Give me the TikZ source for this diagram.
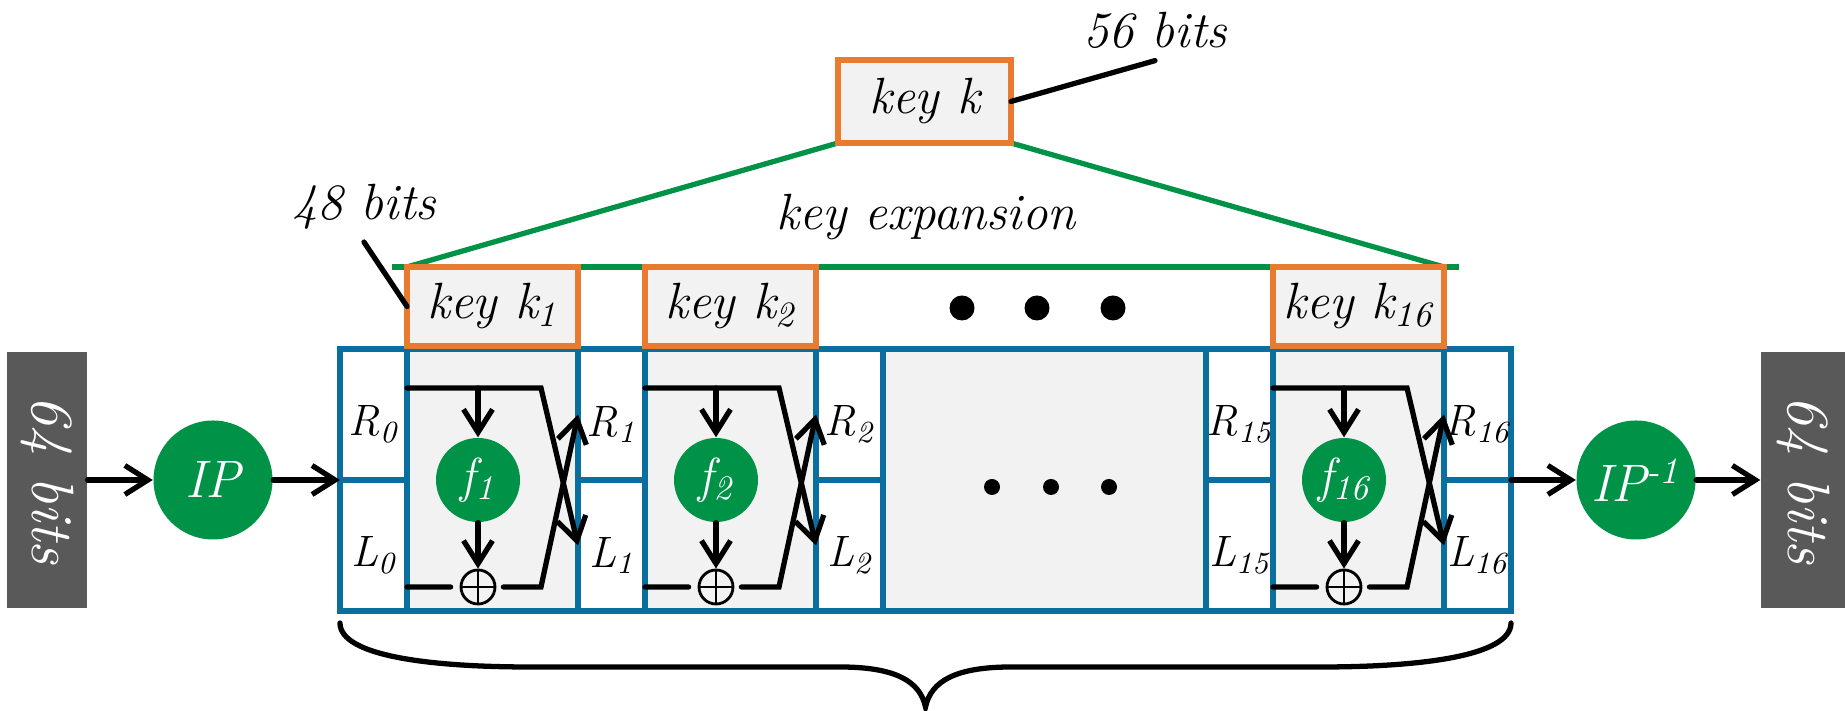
\documentclass[tikz,border=0pt]{standalone}
\usepackage{fontspec}
\usepackage{graphicx}
\usepackage{xcolor}
\usepackage{tikz}
\usetikzlibrary{arrows.meta,positioning,calc,backgrounds}
\definecolor{desblue}{HTML}{0A6E9E}
\definecolor{desorange}{HTML}{E97B30}
\definecolor{desgreen}{HTML}{009247}
\definecolor{desgray}{HTML}{595959}
\definecolor{despale}{HTML}{F2F2F2}
\newcommand{\fsz}[1]{\fontsize{#1}{#1}\selectfont\itshape}

\begin{document}
\begin{tikzpicture}[
  font=\fsz{14.5},
  >={Straight Barb[length=2.3mm,width=2.9mm]},
  wire/.style={line width=1.5pt,line cap=round},
  flow/.style={wire,->},
  cell/.style={draw=desblue,line width=1.5pt,fill=white,minimum width=0.67cm,minimum height=1.31cm,inner sep=0pt,outer sep=0pt},
  roundbox/.style={cell,fill=despale,minimum width=1.71cm,minimum height=2.62cm},
  keybox/.style={draw=desorange,fill=despale,line width=1.6pt,minimum width=1.71cm,minimum height=0.79cm,inner sep=0pt,outer sep=0pt},
  fnode/.style={circle,fill=desgreen,text=white,minimum size=0.84cm,inner sep=0pt,font=\fsz{14}},
  ipnode/.style={circle,fill=desgreen,text=white,minimum size=1.19cm,inner sep=0pt,font=\fsz{15}},
  bitsbox/.style={fill=desgray,text=white,minimum width=0.8cm,minimum height=2.56cm,inner sep=0pt,font=\fsz{17}},
  xorsym/.style={circle,draw,line width=0.8pt,minimum size=0.34cm,inner sep=0pt,
    path picture={\draw[line width=0.8pt] (path picture bounding box.north) -- (path picture bounding box.south)
      (path picture bounding box.west) -- (path picture bounding box.east);}},
  reglabel/.style={font=\fsz{12.5},yshift=-1mm},
  keyline/.style={draw=desgreen,line width=1.5pt},
  brace/.style={line width=1.5pt,line cap=round}
]
\useasboundingbox (0,0) rectangle (18.45,7.11);

% register cells and the skipped rounds
\foreach \n/\x in {0/3.735,1/6.115,2/8.495,15/12.395,16/14.775}{
  \node[cell,label={[reglabel]center:R\textsubscript{\n}}] (R\n) at (\x,2.965) {};
  \node[cell,label={[reglabel]center:L\textsubscript{\n}}] (L\n) at (\x,1.655) {};
}
\node[roundbox,minimum width=3.23cm] (gap) at (10.445,2.31) {};
\foreach \x in {9.92,10.51,11.09} \fill (\x,2.24) circle (0.08);

% feistel rounds
\foreach \n/\x in {1/4.925,2/7.305,16/13.585}{
  \node[roundbox] (rnd\n) at (\x,2.31) {};
  \node[keybox] (key\n) at (\x,4.045) {key k\textsubscript{\n}};
  \node[fnode] (f\n) at (\x-0.145,2.31) {f\textsubscript{\n}};
  \node[xorsym] (x\n) at (\x-0.145,1.24) {};
  \coordinate (t\n) at ($(rnd\n.west)+(0,0.92)$);
  \coordinate (tk\n) at ($(rnd\n.west)+(1.34,0.92)$);
  \coordinate (b\n) at ($(rnd\n.west)+(0,-1.07)$);
  \coordinate (bk\n) at ($(rnd\n.west)+(1.34,-1.07)$);
  \draw[flow] (t\n) -- (tk\n) -- (L\n.west);
  \draw[flow] (t\n -| f\n) -- (f\n);
  \draw[flow] (f\n) -- (x\n);
  \draw[wire,shorten >=0.09cm] (b\n) -- (x\n);
  \draw[flow,shorten <=0.07cm] (x\n) -- (bk\n) -- (R\n.west);
}
\foreach \x in {9.62,10.37,11.13} \fill (\x,4.03) circle (0.125);

% key schedule
\node[keybox,minimum width=1.73cm,minimum height=0.83cm] (kk) at (9.245,6.095) {key k};
\node (kexp) at (9.26,4.94) {key expansion};
\begin{scope}[on background layer]
  \draw[keyline] (key1.north west) -- (kk.south west);
  \draw[keyline] (kk.south east) -- (key16.north east);
  \draw[keyline] ($(key1.north west)+(-0.15,0)$) -- ($(key16.north east)+(0.15,0)$);
\end{scope}
\node (b56) at (11.55,6.81) {56 bits};
\draw[wire] (kk.east) -- (b56.south);
\node (b48) at (3.64,5.04) {48 bits};
\draw[wire] (b48.south) -- (key1.west);

% permutations
\node[bitsbox] (in64) at (0.47,2.31) {\rotatebox{-90}{64 bits}};
\node[ipnode] (ip) at (2.13,2.31) {IP};
\node[ipnode] (ipinv) at (16.36,2.31) {IP\textsuperscript{-1}};
\node[bitsbox,minimum width=0.84cm] (out64) at (18.03,2.31) {\rotatebox{-90}{64 bits}};
\draw[flow] (in64) -- (ip);
\draw[flow] (ip) -- (R0.south west);
\draw[flow] (R16.south east) -- (ipinv);
\draw[flow] (ipinv) -- (out64);

\draw[brace] (3.40,0.88) .. controls (3.40,0.55) and (4.3,0.44) .. (5.3,0.44) -- (8.4,0.44)
  .. controls (8.95,0.44) and (9.2,0.3) .. (9.255,0.04)
  .. controls (9.31,0.3) and (9.56,0.44) .. (10.11,0.44) -- (13.21,0.44)
  .. controls (14.21,0.44) and (15.11,0.55) .. (15.11,0.88);
\end{tikzpicture}
\end{document}
